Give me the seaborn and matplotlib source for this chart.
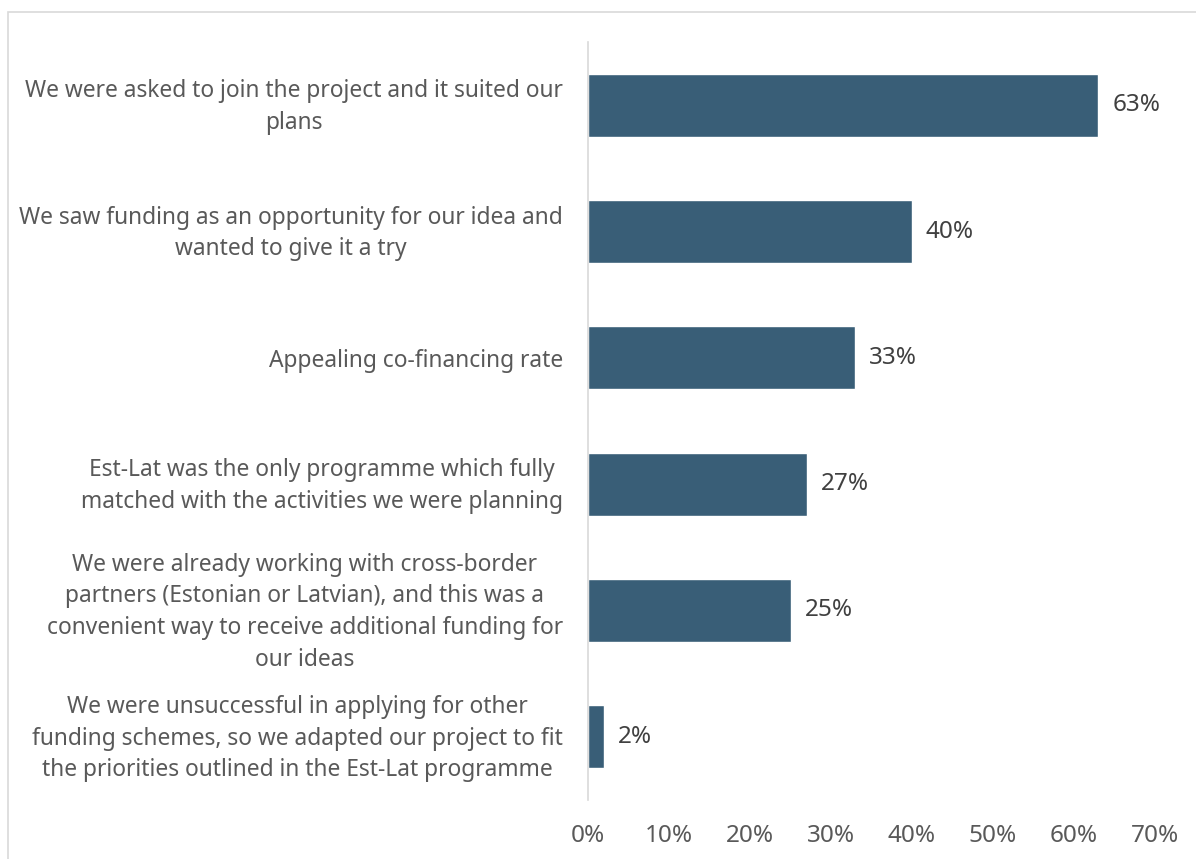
import matplotlib
matplotlib.use("Agg")
import matplotlib.pyplot as plt
from matplotlib.patches import Rectangle
from matplotlib.transforms import ScaledTranslation
import seaborn as sns
import pandas as pd

reasons = [
    "We were asked to join the project and it suited our\nplans",
    "We saw funding as an opportunity for our idea and\nwanted to give it a try",
    "Appealing co-financing rate",
    "Est-Lat was the only programme which fully\nmatched with the activities we were planning",
    "We were already working with cross-border\npartners (Estonian or Latvian), and this was a\nconvenient way to receive additional funding for\nour ideas",
    "We were unsuccessful in applying for other\nfunding schemes, so we adapted our project to fit\nthe priorities outlined in the Est-Lat programme",
]
shares = [63, 40, 33, 27, 25, 2]
x_ticks = [0, 10, 20, 30, 40, 50, 60, 70]

df = pd.DataFrame({"reason": reasons, "share": shares})

sns.set_theme(style="white")
plt.rcParams["font.family"] = ["Noto Sans", "DejaVu Sans"]

fig = plt.figure(figsize=(11.96, 8.59), dpi=100)
ax = fig.add_axes([588 / 1196, 1 - 800 / 859, (1155 - 588) / 1196, (800 - 42) / 859])

sns.barplot(data=df, x="share", y="reason", orient="h", color="#395E77",
            width=0.5, saturation=1, ax=ax)

ax.set_xlim(0, 70)
ax.set_ylim(5.5, -0.5)
ax.set_xticks(x_ticks)
ax.set_xticklabels([f"{t}%" for t in x_ticks])
ax.set_xlabel("")
ax.set_ylabel("")

for side in ["top", "right", "bottom"]:
    ax.spines[side].set_visible(False)
ax.spines["left"].set_color("#d9d9d9")
ax.spines["left"].set_linewidth(1.2)

ax.tick_params(axis="x", length=0, pad=17, labelsize=17.5, labelcolor="#595959")
ax.tick_params(axis="y", length=0, pad=18, labelsize=16.4, labelcolor="#595959")

# centre wrapped category labels on their bars
lift = ScaledTranslation(0, 5 / 100, fig.dpi_scale_trans)
for lbl in ax.get_yticklabels():
    lbl.set_multialignment("center")
    lbl.set_linespacing(1.42)
    if "\n" in lbl.get_text():
        lbl.set_transform(lbl.get_transform() + lift)

for container in ax.containers:
    ax.bar_label(container, labels=[f"{v}%" for v in shares], padding=10,
                 fontsize=17.5, color="#404040")

# light frame around the chart area
fig.add_artist(Rectangle((8 / 1196, -0.05), 1.2, (1 - 12 / 859) + 0.05,
                         transform=fig.transFigure, fill=False,
                         edgecolor="#d9d9d9", linewidth=1.2))

fig.savefig("out.png", dpi=100, facecolor="white")
